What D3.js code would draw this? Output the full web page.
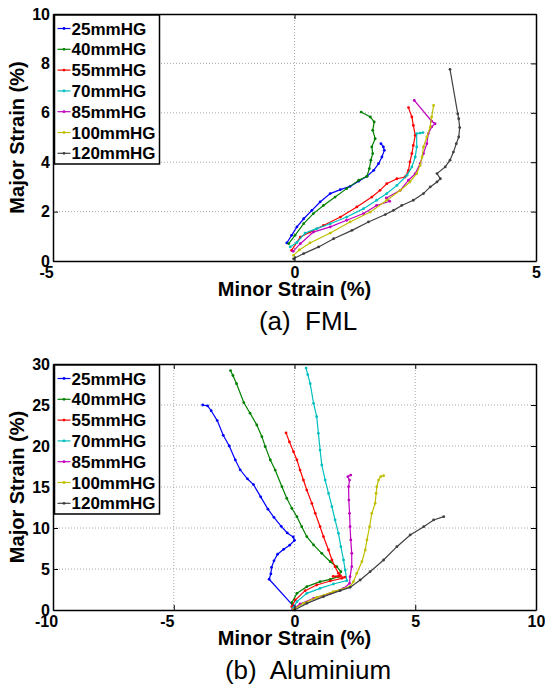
<!DOCTYPE html>
<html>
<head>
<meta charset="utf-8">
<script src="https://cdn.jsdelivr.net/npm/d3@7"></script>
<style>
  body { margin: 0; background: #fff; }
  text { font-family: "Liberation Sans", Arial, sans-serif; }
</style>
</head>
<body>
<svg id="chart" width="545" height="686"></svg>
<script>
const labels = ['25mmHG', '40mmHG', '55mmHG', '70mmHG', '85mmHG', '100mmHG', '120mmHG'];
const colors = ['#0000ff', '#008000', '#ff0000', '#00bfbf', '#bf00bf', '#bfbf00', '#404040'];

// (a) FML : [minor strain, major strain]
const fml25 = [[-0.16,0.73],[-0.06,1.04],[0.05,1.38],[0.19,1.71],[0.36,2.05],[0.53,2.39],[0.74,2.73],[0.95,2.89],[1.15,3.02],[1.33,3.23],[1.5,3.43],[1.64,3.67],[1.74,3.94],[1.81,4.21],[1.86,4.48],[1.84,4.62],[1.79,4.75]];
const fml40 = [[-0.12,0.70],[0.01,1.04],[0.19,1.51],[0.39,1.92],[0.6,2.25],[0.84,2.59],[1.08,2.93],[1.33,3.27],[1.5,3.43],[1.55,3.74],[1.58,4.08],[1.62,4.35],[1.6,4.62],[1.67,4.95],[1.62,5.29],[1.65,5.63],[1.57,5.83],[1.38,6.03]];
const fml55 = [[-0.06,0.43],[0.12,0.97],[0.32,1.17],[0.6,1.44],[0.95,1.78],[1.29,2.19],[1.6,2.59],[1.77,2.86],[1.91,3.13],[2.12,3.33],[2.29,3.4],[2.36,3.67],[2.39,4.01],[2.43,4.35],[2.46,4.68],[2.5,5.09],[2.46,5.49],[2.43,5.83],[2.36,6.21]];
const fml70 = [[-0.09,0.57],[0.05,0.75],[0.22,1.13],[0.46,1.31],[0.74,1.51],[1.08,1.78],[1.43,2.12],[1.7,2.46],[1.91,2.73],[2.12,3.06],[2.33,3.47],[2.43,3.81],[2.5,4.21],[2.53,4.62],[2.53,5.16],[2.6,5.18],[2.66,5.2]];
const fml85 = [[-0.03,0.39],[0.12,0.70],[0.39,1.17],[0.74,1.38],[1.08,1.65],[1.43,1.92],[1.7,2.25],[1.97,2.42],[1.9,2.55],[2.19,2.86],[2.36,3.27],[2.5,3.54],[2.6,3.94],[2.67,4.35],[2.74,4.75],[2.77,5.16],[2.84,5.43],[2.91,5.56],[2.84,5.66],[2.48,6.5]];
const fml100 = [[-0.02,0.23],[0.1,0.45],[0.32,0.73],[0.74,1.13],[1.15,1.58],[1.57,1.98],[1.91,2.46],[2.19,2.86],[2.39,3.2],[2.53,3.54],[2.6,3.87],[2.64,4.21],[2.67,4.62],[2.74,5.02],[2.81,5.43],[2.84,5.83],[2.88,6.3]];
const fml120 = [[-0.02,0.09],[0.19,0.3],[0.5,0.57],[0.81,0.9],[1.19,1.24],[1.53,1.58],[1.88,1.88],[2.05,2.05],[2.22,2.25],[2.46,2.46],[2.67,2.73],[2.81,3.0],[2.95,3.2],[3.02,3.33],[2.95,3.54],[3.12,3.81],[3.22,4.08],[3.29,4.41],[3.35,4.75],[3.4,5.02],[3.42,5.4],[3.4,5.76],[3.38,5.96],[3.22,7.76]];

// (b) Aluminium
const alu25 = [[-0.05,0.5],[-1.05,3.75],[-0.98,4.4],[-0.95,5.2],[-0.85,6.0],[-0.7,6.8],[-0.45,7.4],[-0.2,7.9],[0,8.5],[-0.05,8.9],[-0.3,9.4],[-0.55,10.2],[-0.85,11.3],[-1.1,12.3],[-1.4,13.8],[-1.7,15.3],[-1.95,16.0],[-2.25,17.1],[-2.45,18.3],[-2.7,20.0],[-2.95,21.3],[-3.2,23.1],[-3.45,24.3],[-3.6,24.9],[-3.8,25.0]];
const alu40 = [[-0.1,0.4],[-0.11,0.89],[0.1,2.03],[0.51,2.85],[1.06,3.46],[1.48,3.74],[1.82,4.07],[1.92,4.67],[1.75,5.28],[1.48,5.89],[1.13,6.91],[0.79,7.93],[0.51,8.94],[0.3,10.16],[0.1,11.38],[-0.11,12.4],[-0.32,13.62],[-0.52,15.04],[-0.8,17.07],[-1.0,18.29],[-1.21,19.92],[-1.35,21.14],[-1.56,22.56],[-1.84,24.0],[-2.1,25.3],[-2.4,27.6],[-2.55,28.6],[-2.65,29.2]];
const alu55 = [[-0.11,0.41],[0.03,1.22],[0.44,2.36],[0.92,3.05],[1.48,3.54],[1.96,3.86],[2.1,4.0],[1.6,4.1],[1.9,4.2],[1.82,4.47],[1.68,5.28],[1.55,6.1],[1.41,7.32],[1.2,8.94],[1.06,10.16],[0.86,11.79],[0.72,13.0],[0.51,14.63],[0.37,15.85],[0.23,17.07],[0.1,18.3],[-0.04,19.3],[-0.21,20.5],[-0.35,21.6]];
const alu70 = [[-0.07,0.2],[0.1,1.02],[0.51,2.03],[1.06,2.64],[1.61,3.17],[2.17,3.58],[2.1,4.88],[2.03,6.1],[1.92,7.72],[1.82,9.35],[1.68,10.98],[1.55,12.6],[1.41,14.23],[1.27,15.85],[1.13,17.68],[1.06,19.5],[0.99,21.54],[0.92,23.58],[0.79,25.2],[0.65,27.6],[0.55,28.7],[0.48,29.5]];
const alu85 = [[-0.07,0.08],[0.23,0.73],[0.79,1.42],[1.48,2.03],[2.03,2.64],[2.28,3.25],[2.3,4.07],[2.37,5.28],[2.37,6.91],[2.33,8.54],[2.3,10.16],[2.28,11.79],[2.25,13.41],[2.24,15.04],[2.28,15.85],[2.21,16.26],[2.33,16.46]];
const alu100 = [[-0.04,0.08],[0.37,0.81],[0.92,1.54],[1.61,2.24],[2.3,2.85],[2.44,3.46],[2.58,4.47],[2.79,5.89],[2.93,7.32],[3.0,8.54],[3.11,10.16],[3.2,11.79],[3.34,13.0],[3.38,14.23],[3.41,15.04],[3.48,15.85],[3.57,16.26],[3.69,16.38]];
const alu120 = [[0,0],[0.51,0.81],[1.2,1.63],[1.89,2.36],[2.3,2.76],[2.72,3.66],[3.13,4.67],[3.69,6.1],[4.24,7.72],[4.79,9.15],[5.35,10.16],[5.76,10.98],[6.18,11.38]];

const fmlXTicks = [-5, 0, 5];
const fmlYTicks = [0, 2, 4, 6, 8, 10];
const aluXTicks = [-10, -5, 0, 5, 10];
const aluYTicks = [0, 5, 10, 15, 20, 25, 30];

const svg = d3.select('#chart');
const left = 53, right = 536;

const panel = cfg => {
  const x = d3.scaleLinear().domain(d3.extent(cfg.xTicks)).range([left, right]);
  const y = d3.scaleLinear().domain(d3.extent(cfg.yTicks)).range([cfg.bottom, cfg.top]);
  const g = svg.append('g');

  // dotted grid
  g.append('g').selectAll('line').data(cfg.xTicks.slice(1, -1)).join('line')
    .attr('x1', d => x(d)).attr('x2', d => x(d))
    .attr('y1', cfg.top).attr('y2', cfg.bottom);
  g.append('g').selectAll('line').data(cfg.yTicks.slice(1, -1)).join('line')
    .attr('x1', left).attr('x2', right)
    .attr('y1', d => y(d)).attr('y2', d => y(d));
  g.selectAll('g line')
    .attr('stroke', '#aaa').attr('stroke-width', 1).attr('stroke-dasharray', '1,2');

  // curves
  const line = d3.line().x(d => x(d[0])).y(d => y(d[1]));
  cfg.data.forEach((s, i) => {
    g.append('path').datum(s)
      .attr('d', line).attr('fill', 'none')
      .attr('stroke', colors[i]).attr('stroke-width', 1.2);
    g.append('g').selectAll('circle').data(s).join('circle')
      .attr('cx', d => x(d[0])).attr('cy', d => y(d[1]))
      .attr('r', 1.4).attr('fill', colors[i]);
  });

  // axes, ticks inside like matlab
  const fmt = d => String(d);   // plain hyphen, not unicode minus
  const style = a => {
    a.selectAll('.domain').attr('stroke', '#000').attr('stroke-width', 1.5);
    a.selectAll('.tick line').attr('stroke', '#000');
    a.selectAll('text').attr('font-size', 16).attr('font-weight', 'bold')
      .attr('font-family', '"Liberation Sans", Arial, sans-serif').attr('fill', '#000');
  };
  const xb = g.append('g').attr('transform', `translate(0,${cfg.bottom})`)
    .call(d3.axisBottom(x).tickValues(cfg.xTicks).tickFormat(fmt).tickSize(-5).tickSizeOuter(0).tickPadding(5.5))
    .call(style);
  xb.selectAll('.tick text').attr('dx', d => d < 0 ? -7 : 0);
  g.append('g').attr('transform', `translate(0,${cfg.top})`)
    .call(d3.axisTop(x).tickValues(cfg.xTicks).tickSize(-5).tickSizeOuter(0).tickFormat(''))
    .call(style);
  g.append('g').attr('transform', `translate(${left},0)`)
    .call(d3.axisLeft(y).tickValues(cfg.yTicks).tickFormat(fmt).tickSize(-5).tickSizeOuter(0).tickPadding(3))
    .call(style);
  g.append('g').attr('transform', `translate(${right},0)`)
    .call(d3.axisRight(y).tickValues(cfg.yTicks).tickSize(-5).tickSizeOuter(0).tickFormat(''))
    .call(style);

  // axis titles
  g.append('text')
    .attr('transform', `translate(24,${(cfg.top + cfg.bottom) / 2}) rotate(-90)`)
    .attr('text-anchor', 'middle').attr('font-size', 20).attr('font-weight', 'bold')
    .text('Major Strain (%)');
  g.append('text')
    .attr('x', (left + right) / 2).attr('y', cfg.bottom + 35)
    .attr('text-anchor', 'middle').attr('font-size', 20).attr('font-weight', 'bold')
    .text('Minor Strain (%)');

  // caption
  g.append('text')
    .attr('x', 308).attr('y', cfg.bottom + 69)
    .attr('text-anchor', 'middle').attr('font-size', 26)
    .attr('xml:space', 'preserve')
    .text(cfg.caption);

  // legend
  const lg = g.append('g').attr('transform', `translate(${left + 1.5},${cfg.top + 1})`);
  lg.append('rect').attr('width', 105).attr('height', 149)
    .attr('fill', '#fff').attr('stroke', '#000').attr('stroke-width', 1.5);
  const row = lg.selectAll('g.row').data(labels).join('g')
    .attr('class', 'row')
    .attr('transform', (d, i) => `translate(0,${13.5 + i * 20.8})`);
  row.append('line').attr('x1', 3).attr('x2', 16)
    .attr('stroke', (d, i) => colors[i]).attr('stroke-width', 1.2);
  row.append('circle').attr('cx', 9.5).attr('r', 1.4).attr('fill', (d, i) => colors[i]);
  row.append('text').attr('x', 17).attr('y', 6)
    .attr('font-size', 17).attr('font-weight', 'bold')
    .text(d => d);
};

panel({
  top: 14, bottom: 261,
  xTicks: fmlXTicks, yTicks: fmlYTicks,
  data: [fml25, fml40, fml55, fml70, fml85, fml100, fml120],
  caption: '(a)  FML'
});

panel({
  top: 364, bottom: 610,
  xTicks: aluXTicks, yTicks: aluYTicks,
  data: [alu25, alu40, alu55, alu70, alu85, alu100, alu120],
  caption: '(b)  Aluminium'
});
</script>
</body>
</html>
